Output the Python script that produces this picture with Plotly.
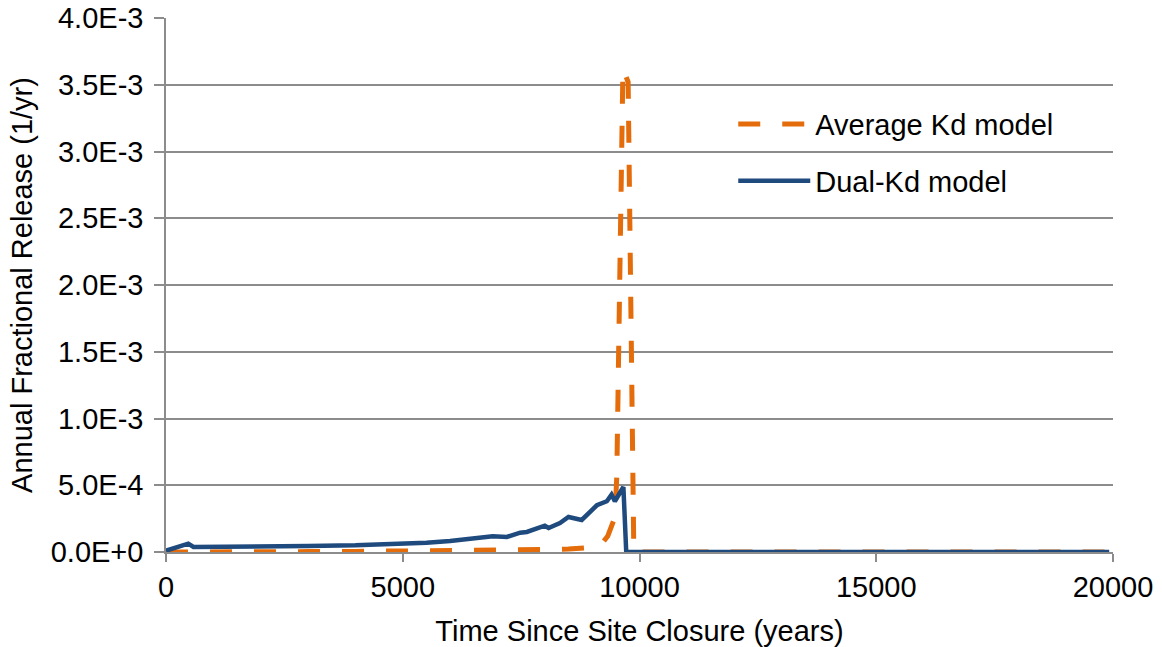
import plotly.graph_objects as go

# ---- data ----
avg_kd_time = [0, 500, 1000, 2000, 3000, 4000, 5000, 6000, 7000, 8000, 8500, 9000,
               9200, 9330, 9480, 9520, 9650, 9760, 9880, 10000, 12000, 15000, 18000, 19920]
avg_kd_release = [0.0, 2e-6, 2e-6, 3e-6, 3e-6, 4e-6, 6e-6, 9e-6, 1.3e-5, 1.8e-5, 2.2e-5, 3.5e-5,
                  6e-5, 1.2e-4, 2.6e-4, 5.6e-4, 3.62e-3, 3.52e-3, 0.0, 0.0, 0.0, 0.0, 0.0, 0.0]

dual_kd_time = [0, 470, 580, 1000, 2000, 3000, 4000, 5000, 5500, 6000, 6500, 6900, 7200,
                7480, 7620, 8000, 8080, 8320, 8500, 8780, 9100, 9310, 9410, 9480, 9660,
                9720, 10000, 12000, 15000, 18000, 19920]
dual_kd_release = [1e-5, 6.3e-5, 3.8e-5, 3.8e-5, 4.0e-5, 4.5e-5, 5.0e-5, 6.0e-5, 7.0e-5, 8.2e-5,
                   9.8e-5, 1.18e-4, 1.13e-4, 1.45e-4, 1.50e-4, 1.97e-4, 1.80e-4, 2.17e-4,
                   2.62e-4, 2.40e-4, 3.50e-4, 3.80e-4, 4.30e-4, 3.80e-4, 4.87e-4,
                   0.0, 0.0, 0.0, 0.0, 0.0, 0.0]

y_tick_vals = [0.0, 5e-4, 1e-3, 1.5e-3, 2e-3, 2.5e-3, 3e-3, 3.5e-3, 4e-3]
y_tick_text = ["0.0E+0", "5.0E-4", "1.0E-3", "1.5E-3", "2.0E-3", "2.5E-3", "3.0E-3", "3.5E-3", "4.0E-3"]
x_tick_vals = [0, 5000, 10000, 15000, 20000]
x_tick_text = ["0", "5000", "10000", "15000", "20000"]

ORANGE = "#E46C0A"
BLUE = "#1F4A7E"
GRID = "#8C8C8C"
FONT = "Liberation Sans, Arial, sans-serif"
FS = 29

fig = go.Figure()
fig.add_trace(go.Scatter(
    x=avg_kd_time, y=avg_kd_release, mode="lines", name="Average Kd model",
    line=dict(color=ORANGE, width=5, dash="22px,22px"), legendgroup="a",
))
fig.add_trace(go.Scatter(
    x=dual_kd_time, y=dual_kd_release, mode="lines", name="Dual-Kd model",
    line=dict(color=BLUE, width=4.5), legendgroup="b",
))

fig.update_layout(
    width=1162, height=647,
    margin=dict(l=166, r=49, t=18, b=95),
    paper_bgcolor="white", plot_bgcolor="white",
    font=dict(family=FONT, size=FS, color="#000000"),
    showlegend=True,
    legend=dict(
        x=0.599, y=0.849, xanchor="left", yanchor="top",
        bgcolor="rgba(255,255,255,0)", font=dict(size=FS),
        itemwidth=72, tracegroupgap=16,
    ),
    xaxis=dict(
        range=[0, 20000], tickvals=x_tick_vals, ticktext=x_tick_text,
        showgrid=False, zeroline=False, automargin=False,
        showline=True, linecolor=GRID, linewidth=1.5,
        ticks="outside", ticklen=8, tickcolor=GRID, tickwidth=1.5,
        tickfont=dict(size=FS),
        title=dict(text="Time Since Site Closure (years)", font=dict(size=FS), standoff=19),
    ),
    yaxis=dict(
        range=[0, 4e-3], tickvals=y_tick_vals, ticktext=y_tick_text,
        showgrid=True, gridcolor=GRID, gridwidth=1.5, zeroline=False, automargin=False,
        showline=True, linecolor=GRID, linewidth=1.5,
        ticks="outside", ticklen=10, tickcolor=GRID, tickwidth=1.5,
        tickfont=dict(size=FS), ticklabelstandoff=5,
        title=dict(text="Annual Fractional Release (1/yr)", font=dict(size=FS), standoff=10),
    ),
)

fig.write_html("out.html")
